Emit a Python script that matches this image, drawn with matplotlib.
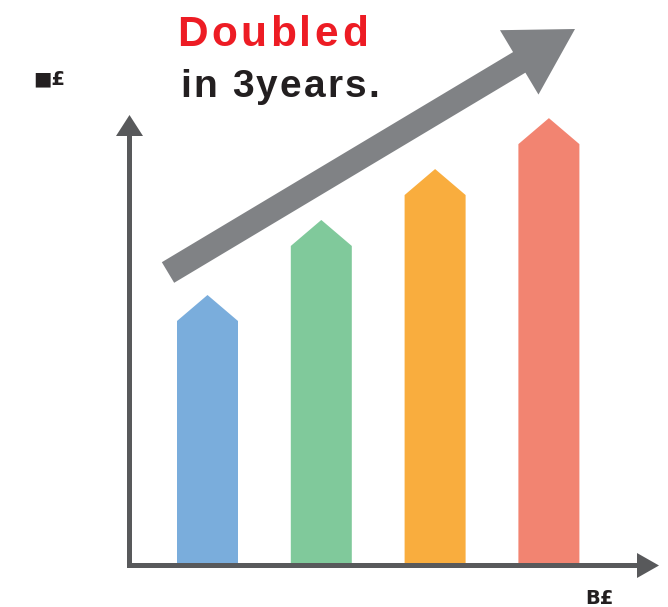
import matplotlib
matplotlib.use("Agg")
import matplotlib.pyplot as plt
from matplotlib.patches import Polygon, FancyArrow

plt.rcParams['font.family'] = ['Liberation Sans', 'DejaVu Sans']

# データ
years = ['Y0', 'Y1', 'Y2', 'Y3']
values = [100, 128, 147, 166]
colors = ['#7aaddc', '#80c99b', '#f9ad3e', '#f28471']
title_top = 'Doubled'
title_bottom = 'in 3years.'
y_label = '■£'
x_label = 'B£'

W, H = 668, 607
fig = plt.figure(figsize=(W / 100, H / 100), dpi=100)

# 棒グラフ用の軸（全面）
ax = fig.add_axes([0, 0, 1, 1])
step = 113.8           # px per category
unit = 2.68            # px per value unit
x0 = 207.5             # first bar centre, px
base = 563             # bar base, px from top
ax.set_xlim(-x0 / step, (W - x0) / step)
ax.set_ylim(-(H - base) / unit, base / unit)
ax.axis('off')

bar_w = 61 / step
head = 26 / unit
for i, (v, c) in enumerate(zip(values, colors)):
    l, r = i - bar_w / 2, i + bar_w / 2
    pts = [(l, 0), (r, 0), (r, v - head), (i, v), (l, v - head)]
    ax.add_patch(Polygon(pts, closed=True, facecolor=c, edgecolor='none'))

# 装飾用の軸（ピクセル座標）
deco = fig.add_axes([0, 0, 1, 1], facecolor='none')
deco.set_xlim(0, W)
deco.set_ylim(H, 0)
deco.axis('off')

axis_col = '#58595b'
# 縦軸
deco.add_patch(FancyArrow(129.5, 568, 0, 115 - 568, width=5, head_width=27,
                          head_length=21, length_includes_head=True,
                          color=axis_col, lw=0))
# 横軸
deco.add_patch(FancyArrow(127, 565.5, 659 - 127, 0, width=5, head_width=25,
                          head_length=22, length_includes_head=True,
                          color=axis_col, lw=0))
# 大きい矢印
deco.add_patch(FancyArrow(168, 272.5, 575 - 168, 29 - 272.5, width=24,
                          head_width=75, head_length=65,
                          length_includes_head=True, color='#808285', lw=0))


def spaced_text(x, y, s, size, color, track):
    # 文字間隔を広げて描画
    r = fig.canvas.get_renderer()
    for k, ch in enumerate(s):
        if k > 0:
            t = deco.text(0, 0, s[:k], fontsize=size, fontweight='bold')
            w = t.get_window_extent(r).width
            t.remove()
        else:
            w = 0
        deco.text(x + w + track * k, y, ch, fontsize=size, fontweight='bold',
                  color=color, va='baseline', ha='left')


spaced_text(177, 46, title_top, 30.5, '#ed1c24', 3.5)
spaced_text(180, 97, title_bottom, 28, '#231f20', 2.2)

deco.text(33, 84, y_label, fontsize=14, fontweight='bold', color='#231f20',
          family=['DejaVu Sans'], va='baseline')
deco.text(585, 604, x_label, fontsize=14, fontweight='bold', color='#231f20',
          family=['DejaVu Sans'], va='baseline')

plt.savefig('out.png', dpi=100)
